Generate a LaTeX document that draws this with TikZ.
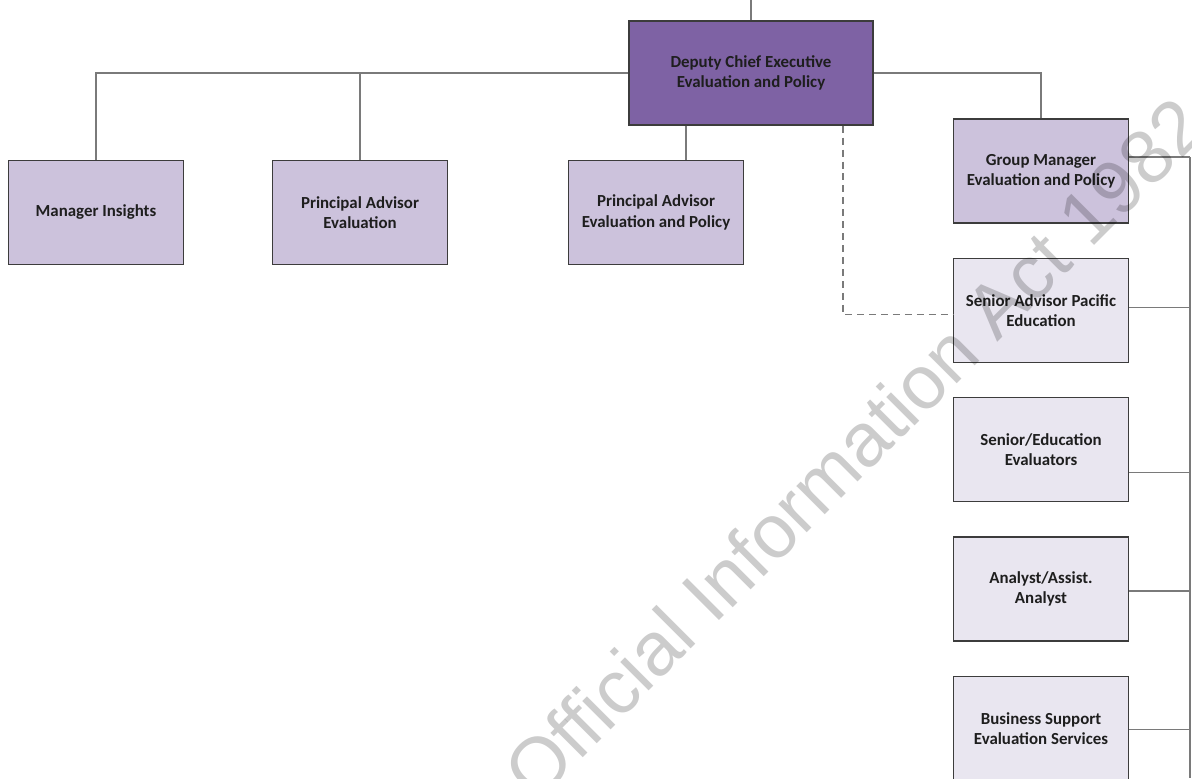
\documentclass[tikz,border=0pt]{standalone}
\usepackage{fontspec}
\setmainfont{Carlito}
\newfontfamily\wmfont{Liberation Sans}
\usetikzlibrary{positioning,calc}
\definecolor{orgDeepPurple}{HTML}{7E62A4}
\definecolor{orgMidPurple}{HTML}{CCC2DC}
\definecolor{orgPalePurple}{HTML}{E9E6F0}
\definecolor{orgBorder}{HTML}{3C3C3C}
\definecolor{orgLine}{HTML}{7A7A7A}
\definecolor{orgText}{HTML}{1E1E1E}

\tikzset{
  orgbox/.style={draw=orgBorder, line width=0.9pt, minimum width=4.375cm,
    minimum height=2.6cm, align=center, inner sep=2pt, text=orgText,
    font=\fontsize{12}{14.5}\selectfont\bfseries},
  topbox/.style={orgbox, fill=orgDeepPurple},
  midbox/.style={orgbox, fill=orgMidPurple},
  palebox/.style={orgbox, fill=orgPalePurple},
  orgline/.style={orgLine, line width=0.9pt},
  dotline/.style={orgLine, line width=0.9pt, dash pattern=on 5pt off 3.5pt},
}

\begin{document}
\begin{tikzpicture}[x=0.025cm, y=-0.025cm]

% --- CANVAS (pixel grid of the page) ---
\fill[white] (0,0) rectangle (1192,778);
\useasboundingbox (0,0) rectangle (1192,778);

\def\colX{1041}
\def\railX{1190}

% --- BOXES ---
\node[topbox, minimum width=6.1cm] (dce) at (751,73)
  {Deputy Chief Executive\\Evaluation and Policy};
\node[midbox] (mi) at (96,212.5) {Manager Insights};
\node[midbox] (pae) at (360,212.5) {Principal Advisor\\Evaluation};
\node[midbox] (paep) at (656,212.5) {Principal Advisor\\Evaluation and Policy};
\node[midbox] (gm) at (\colX,171) {Group Manager\\Evaluation and Policy};

% right column, one box every 139px
\foreach \nm/\yy/\txt in {sap/310.5/{Senior Advisor Pacific\\Education},
                         sev/449.5/{Senior/Education\\Evaluators},
                         aaa/589/{Analyst/Assist.\\Analyst},
                         bses/728.5/{Business Support\\Evaluation Services}} {
  \node[palebox] (\nm) at (\colX,\yy) {\txt};
}

% --- LINES FROM THE DEPUTY CHIEF EXECUTIVE ---
\coordinate (topEnd) at (751,0);
\draw[orgline] (dce.north) -- (topEnd);
\draw[orgline] (mi.north) |- (dce.west);
\draw[orgline] (pae.north) |- (dce.west);
\draw[orgline] (gm.north) |- (dce.east);
\coordinate (paepStem) at (686,0);
\draw[orgline] (dce.south -| paepStem) -- (paep.north -| paepStem);

% dashed (dotted-line report) to the Pacific advisor
\coordinate (dashStem) at (843,0);
\draw[dotline] (dce.south -| dashStem) |- ([yshift=-3pt]sap.west);

% --- RAIL ON THE RIGHT EDGE ---
\coordinate (railTop) at (\railX,157);
\coordinate (railBot) at (\railX,778);
\draw[orgline] (railTop) -- (railBot);
\foreach \nm/\dy in {gm/-14, sap/-3, sev/23, aaa/2, bses/1} {
  \draw[orgline] ($(\nm.east)+(0,\dy)$) coordinate (tap) -- (tap -| railTop);
}

% --- WATERMARK ---
\node[rotate=45, font=\wmfont\fontsize{54}{54}\selectfont, text=black,
      text opacity=0.2, inner sep=0pt] (wm) at (854,448)
  {Official Information Act 1982};

\end{tikzpicture}
\end{document}
